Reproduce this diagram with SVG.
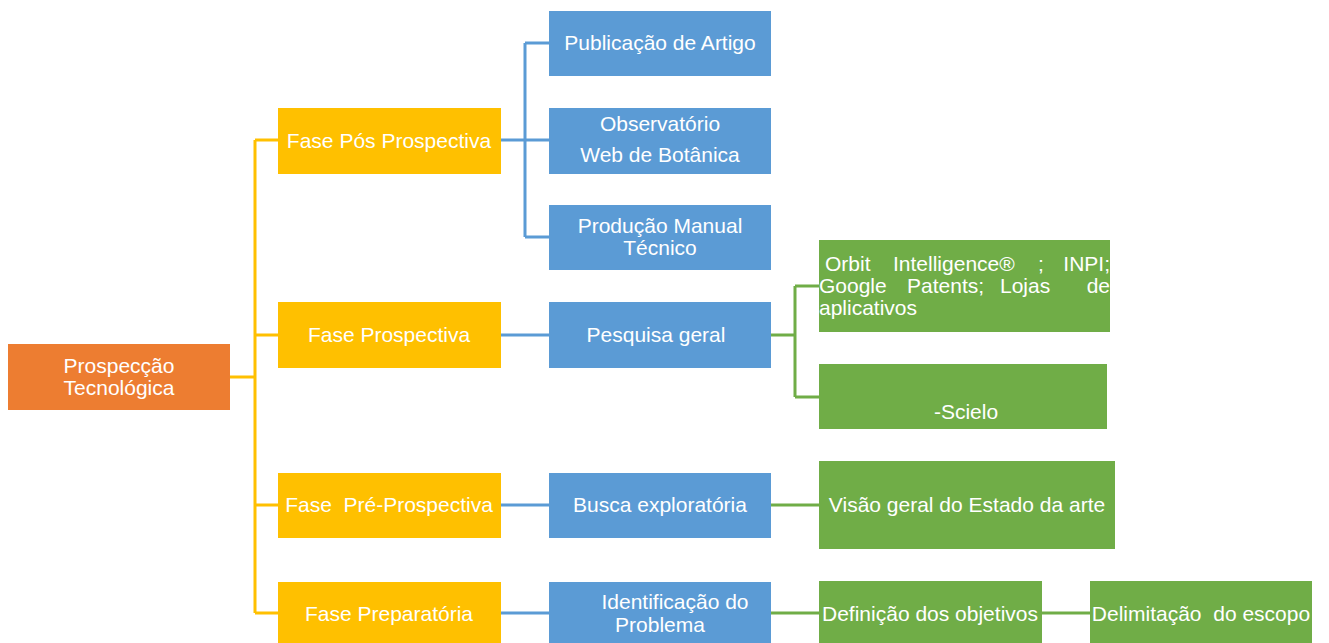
<svg xmlns="http://www.w3.org/2000/svg" width="1329" height="643" viewBox="0 0 1329 643">
<style>
text{font-family:"Liberation Sans",Arial,sans-serif;font-size:21px;fill:#fff;white-space:pre}
.c{text-anchor:middle}
.e{text-anchor:end}
.o{fill:#ED7D31}.y{fill:#FFC000}.b{fill:#5B9BD5}.g{fill:#70AD47}
.ly{stroke:#FFC000;stroke-width:3;fill:none}
.lb{stroke:#5B9BD5;stroke-width:3;fill:none}
.lg{stroke:#70AD47;stroke-width:3;fill:none}
</style>
<rect width="1329" height="643" fill="#fff"/>
<g id="connectors">
<path class="ly" d="M230 377H255M255 140V613M255 140H278M255 335H278M255 505H278M255 613H278"/>
<path class="lb" d="M501 140H549M525 43V237M525 43H549M525 237H549M501 335H549M501 505H549M501 613H549"/>
<path class="lg" d="M771 335H795M795 286V397M795 286H819M795 397H819M771 505H819M771 613H819M1042 613H1090"/>
</g>
<g id="n-root"><rect class="o" x="8" y="344" width="222" height="66"/><text class="c" x="119" y="373">Prospecção</text><text class="c" x="119" y="395">Tecnológica</text></g>
<g id="n-pos"><rect class="y" x="278" y="108" width="223" height="66"/><text class="c" x="389" y="148">Fase Pós Prospectiva</text></g>
<g id="n-prosp"><rect class="y" x="278" y="302" width="223" height="66"/><text class="c" x="389" y="342">Fase Prospectiva</text></g>
<g id="n-pre"><rect class="y" x="278" y="473" width="223" height="65"/><text class="c" x="389" y="512">Fase  Pré-Prospectiva</text></g>
<g id="n-prep"><rect class="y" x="278" y="582" width="223" height="65"/><text class="c" x="389" y="621">Fase Preparatória</text></g>
<g id="n-pub"><rect class="b" x="549" y="11" width="222" height="65"/><text class="c" x="660" y="50">Publicação de Artigo</text></g>
<g id="n-obs"><rect class="b" x="549" y="108" width="222" height="66"/><text class="c" x="660" y="131">Observatório</text><text class="c" x="660" y="162">Web de Botânica</text></g>
<g id="n-prod"><rect class="b" x="549" y="205" width="222" height="65"/><text class="c" x="660" y="233">Produção Manual</text><text class="c" x="660" y="255">Técnico</text></g>
<g id="n-pesq"><rect class="b" x="549" y="302" width="222" height="66"/><text class="c" x="656" y="342">Pesquisa geral</text></g>
<g id="n-busca"><rect class="b" x="549" y="473" width="222" height="65"/><text class="c" x="660" y="512">Busca exploratória</text></g>
<g id="n-ident"><rect class="b" x="549" y="582" width="222" height="65"/><text class="c" x="675" y="609">Identificação do</text><text class="c" x="660" y="632">Problema</text></g>
<g id="n-orbit"><rect class="g" x="819" y="240" width="291" height="92"/>
<text y="271"><tspan x="825">Orbit</tspan><tspan x="893">Intelligence®</tspan><tspan x="1038">;</tspan><tspan class="e" x="1110">INPI;</tspan></text>
<text y="293"><tspan x="819">Google</tspan><tspan x="907">Patents;</tspan><tspan x="1000">Lojas</tspan><tspan class="e" x="1110">de</tspan></text>
<text x="819" y="315">aplicativos</text></g>
<g id="n-scielo"><rect class="g" x="819" y="364" width="288" height="65"/><text class="c" x="966" y="419">-Scielo</text></g>
<g id="n-visao"><rect class="g" x="819" y="461" width="296" height="88"/><text class="c" x="967" y="512">Visão geral do Estado da arte</text></g>
<g id="n-def"><rect class="g" x="819" y="581" width="223" height="66"/><text class="c" x="930" y="621">Definição dos objetivos</text></g>
<g id="n-delim"><rect class="g" x="1090" y="581" width="222" height="66"/><text class="c" x="1201" y="621">Delimitação  do escopo</text></g>
</svg>
